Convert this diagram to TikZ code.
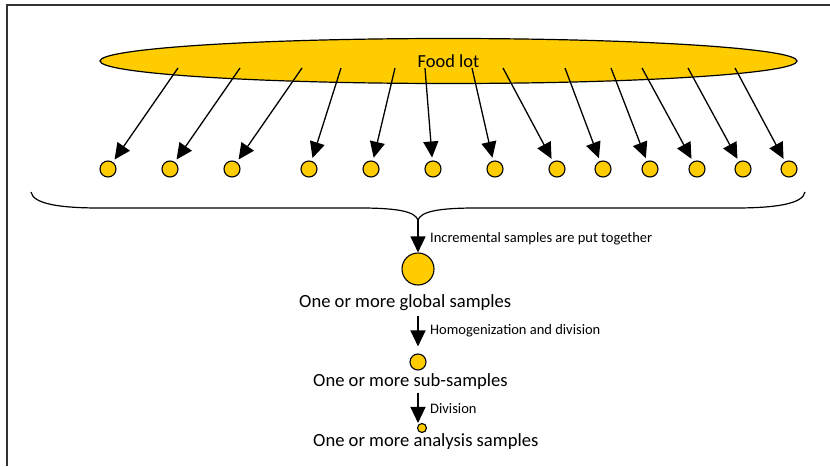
\documentclass[tikz,border=0pt]{standalone}
\usepackage{fontspec}
\setmainfont{Carlito}
\usetikzlibrary{positioning,arrows.meta,shapes.geometric}

\definecolor{foodyellow}{HTML}{FFCC00}

\tikzset{
  dot/.style={circle, draw, line width=1.1pt, fill=foodyellow, inner sep=0pt, minimum size=16pt},
  arr/.style={-{Triangle[length=16pt,width=15pt]}, line width=1.3pt},
  steplabel/.style={font=\fontsize{14.5}{16}\selectfont, anchor=west, inner sep=0pt},
  bigtext/.style={font=\fontsize{18.6}{21}\selectfont, inner sep=0pt}
}

\begin{document}
\begin{tikzpicture}[x=1pt,y=-1pt]
  \useasboundingbox (0,0) rectangle (830,466);
  % frame, cut at right and bottom
  \draw[line width=1.3pt, black!80] (830,5) -- (7,5) -- (7,466);

  % the lot
  \node[ellipse, draw, line width=1.2pt, fill=foodyellow, minimum width=697pt,
        minimum height=45pt, inner sep=0pt, font=\fontsize{18.4}{20}\selectfont]
        (lot) at (448.5,61) {Food lot};

  % incremental samples
  \foreach \sx/\cx [count=\i] in {178/108, 240/170, 302/232, 341/309, 395/371,
      425/433, 472/495, 503/557, 565/603, 611/650, 642/697, 688/743, 735/789}{
    \coordinate (a\i) at (\sx,68);
    \node[dot] (s\i) at (\cx,169) {};
    \draw[arr, shorten >=3pt] (a\i) -- (s\i);
  }

  % brace
  \draw[line width=1.2pt] (31,192) .. controls (33,204) and (60,208) .. (100,208)
      -- (360,208) .. controls (400,208) and (415,212) .. (418,220)
      .. controls (421,212) and (436,208) .. (476,208)
      -- (735,208) .. controls (775,208) and (803,204) .. (805,192);
  \coordinate (brace) at (418,220);

  % global sample
  \node[dot, minimum size=32pt] (global) at (418,269) {};
  \draw[arr] (brace) -- (global);
  \node[steplabel] (putlbl) at (430,239) {Incremental samples are put together};
  \node[bigtext, anchor=west] (globaltxt) at (299,303) {One or more global samples};

  % sub-sample
  \coordinate (g1) at (418,316);
  \node[dot] (sub) at (418,362) {};
  \draw[arr, shorten >=7pt] (g1) -- (sub);
  \node[steplabel] (homlbl) at (430,331) {Homogenization and division};
  \node[bigtext, anchor=west] (subtxt) at (313,382) {One or more sub-samples};

  % analysis sample
  \coordinate (g2) at (418,393);
  \node[dot, minimum size=9pt] (ana) at (422,428) {};
  \draw[arr] (g2) -- (g2 |- ana.north);
  \node[steplabel] (divlbl) at (430,409) {Division};
  \node[bigtext, anchor=west] (anatxt) at (313,442) {One or more analysis samples};
\end{tikzpicture}
\end{document}
